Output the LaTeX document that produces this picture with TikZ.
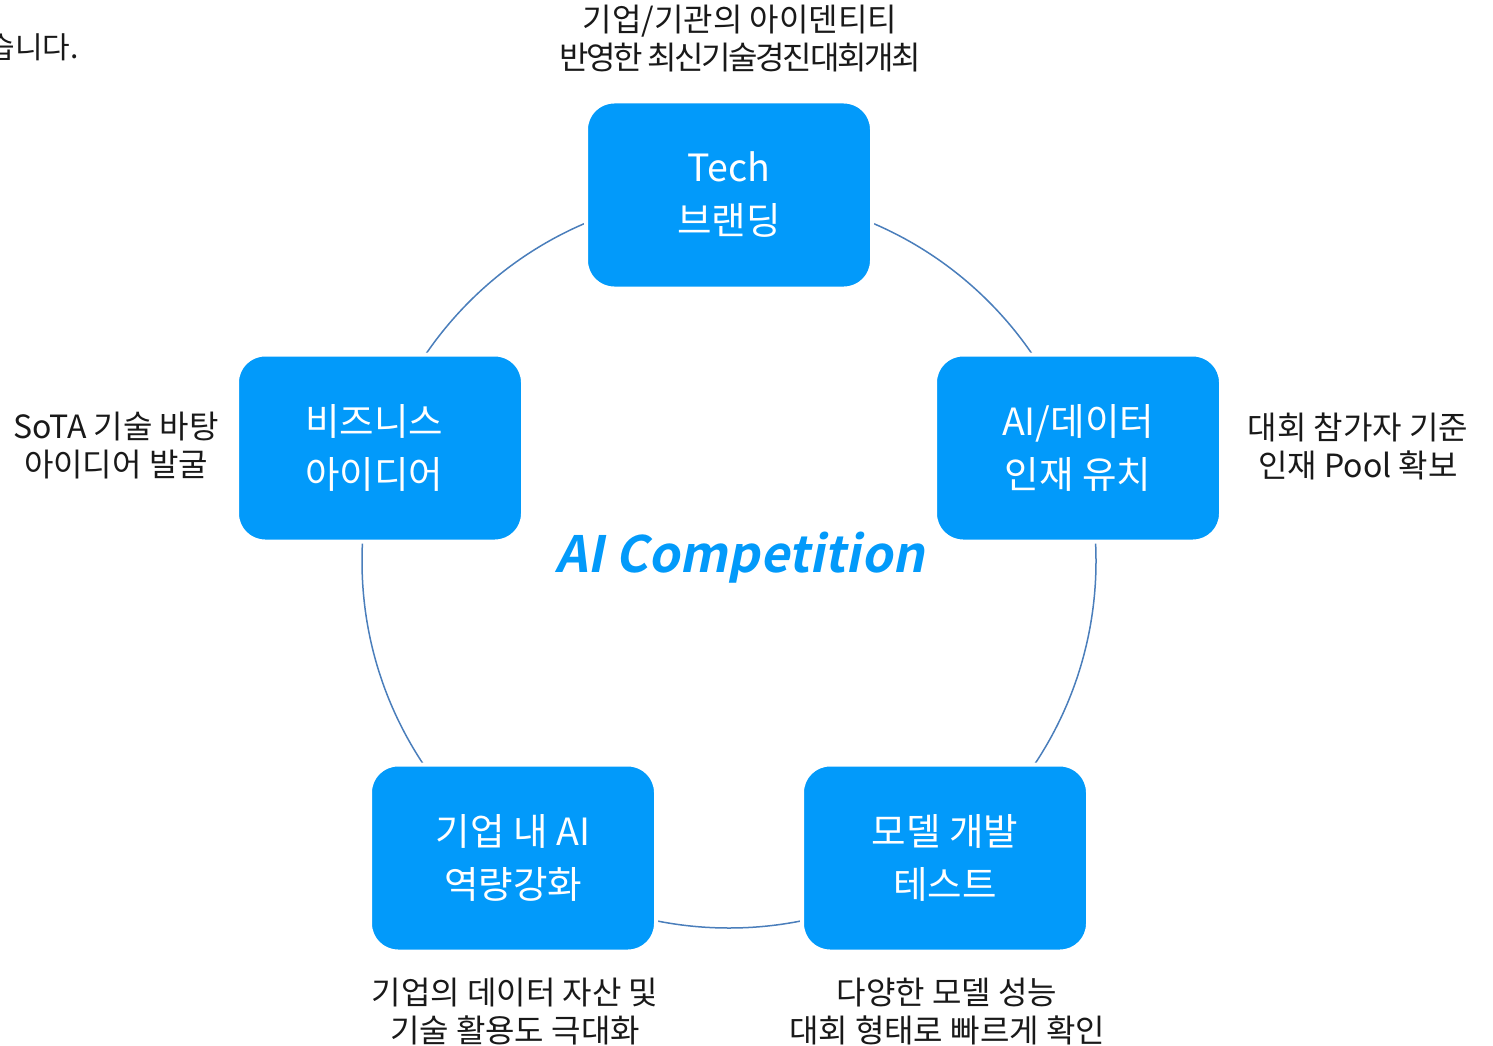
\documentclass[tikz,border=0pt]{standalone}
\usepackage{fontspec}
\setmainfont{Noto Sans CJK KR}
\newfontfamily\compfont[FakeSlant=0.2]{Noto Sans CJK KR Bold}
\definecolor{boxblue}{RGB}{2,154,250}
\definecolor{arcblue}{RGB}{74,126,187}
\begin{document}
\begin{tikzpicture}[x=1pt,y=-1pt,
  stagebox/.style={rectangle, rounded corners=28pt, fill=boxblue, draw=white, line width=4pt,
    minimum width=286pt, minimum height=187pt, text=white, align=center, inner sep=0pt,
    font=\fontsize{37.5}{53}\selectfont},
  note/.style={align=center, inner sep=0pt, text=black!90, font=\fontsize{32}{38}\selectfont}]
\path[use as bounding box] (0,0) rectangle (1493,1046);
\coordinate (c) at (729,561);
\draw[arcblue, line width=1.5pt] (c) circle[radius=367];
\node[stagebox] (tech) at (729,195) {Tech\\브랜딩};
\node[stagebox] (biz) at (380,448) {\hspace*{-12pt}비즈니스\\\hspace*{-12pt}아이디어};
\node[stagebox] (talent) at (1078,448) {AI/데이터\\인재 유치};
\node[stagebox] (corp) at (513,858) {기업 내 AI\\역량강화};
\node[stagebox] (model) at (945,858) {모델 개발\\테스트};
\node[text=boxblue, inner sep=0pt, font=\compfont\fontsize{50}{52}\selectfont] (title) at (740,558) {AI Competition};
\node[note] (ntech) at (740,39) {기업/기관의 아이덴티티\\{\addfontfeature{LetterSpace=-7.5}반영한 최신기술경진대회개최}};
\node[note] (nbiz) at (116,446) {SoTA 기술 바탕\\아이디어 발굴};
\node[note] (ntalent) at (1358,446) {대회 참가자 기준\\인재 Pool 확보};
\node[note] (ncorp) at (515,1012) {기업의 데이터 자산 및\\기술 활용도 극대화};
\node[note] (nmodel) at (947,1012) {다양한 모델 성능\\대회 형태로 빠르게 확인};
\node[note, anchor=east, font=\fontsize{30}{38}\selectfont] (prev) at (79,47) {습니다.};
\end{tikzpicture}
\end{document}
